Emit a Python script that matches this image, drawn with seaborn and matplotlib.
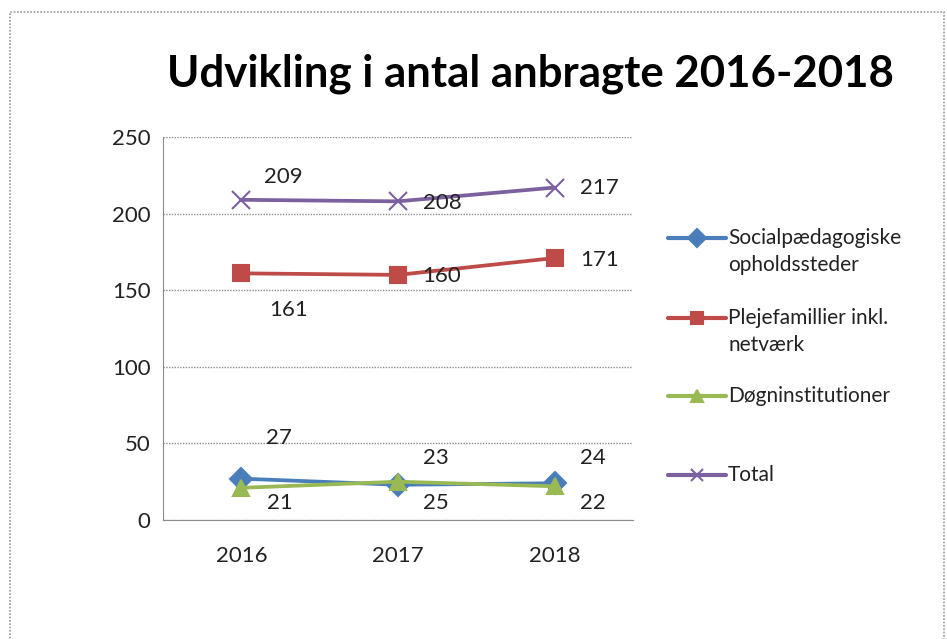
import matplotlib
matplotlib.use('Agg')
import matplotlib.pyplot as plt
from matplotlib.patches import Rectangle
from matplotlib.lines import Line2D
import pandas as pd
import seaborn as sns

years = [2016, 2017, 2018]
series_names = ['Socialpædagogiske\nopholdssteder', 'Plejefamillier inkl.\nnetværk',
                'Døgninstitutioner', 'Total']
social = [27, 23, 24]
pleje = [161, 160, 171]
dogn = [21, 25, 22]
total = [209, 208, 217]
y_ticks = [0, 50, 100, 150, 200, 250]

# data label offsets in pixels (per series, per year)
label_offsets = [
    [(38, 41), (38, 27), (38, 25)],
    [(47, -37), (44, -1), (45, -2)],
    [(39, -15), (38, -21), (38, -17)],
    [(42, 23), (44, -2), (45, 0)],
]

sns.set_style('white')
plt.rcParams['font.family'] = ['Lato', 'DejaVu Sans']

colors = ['#4A7EBB', '#BE4B48', '#98B954', '#7D60A0']
markers = ['D', 's', '^', 'x']
marker_sizes = [11, 11, 12, 13]
W, H = 947, 639

fig = plt.figure(figsize=(W / 100, H / 100), dpi=100)
fig.patches.append(Rectangle((10 / W, -0.01), 934 / W, 1 - 12 / H + 0.01, transform=fig.transFigure,
                             fill=False, edgecolor='#9a9a9a', linewidth=1.2, linestyle=(0, (1, 1))))
ax = fig.add_axes([163 / W, 1 - 520 / H, 470 / W, 383 / H])

all_vals = [social, pleje, dogn, total]
for name, vals, col, mk, ms in zip(series_names, all_vals, colors, markers, marker_sizes):
    d = pd.DataFrame({'year': years, 'value': vals})
    sns.lineplot(data=d, x='year', y='value', color=col, marker=mk, ax=ax, linewidth=2.7,
                 markersize=ms, markeredgewidth=1.5, markeredgecolor=col, legend=False)

for vals, offs in zip(all_vals, label_offsets):
    for yr, v, off in zip(years, vals, offs):
        ax.annotate(str(v), (yr, v), xytext=off, textcoords='offset pixels',
                    ha='center', va='center', fontsize=16, color='#222222')

ax.set_xlim(2015.5, 2018.5)
ax.set_ylim(0, 250)
ax.set_xticks(years)
ax.set_xticklabels([str(y) for y in years])
ax.set_yticks(y_ticks)
ax.tick_params(axis='both', length=0, labelsize=16, labelcolor='#222222')
ax.tick_params(axis='y', pad=9)
ax.tick_params(axis='x', pad=19)
ax.set_xlabel('')
ax.set_ylabel('')
ax.yaxis.grid(True, color='#8c8c8c', linestyle=(0, (1, 1)), linewidth=1)
for side in ['top', 'right']:
    ax.spines[side].set_visible(False)
for side in ['left', 'bottom']:
    ax.spines[side].set_color('#8c8c8c')
    ax.spines[side].set_linestyle((0, (1, 1)))

# legend, handle aligned with first text line like the original
legend_y = [238, 318, 396, 475]
line_gap = 27
for name, col, mk, ly in zip(series_names, colors, markers, legend_y):
    fy = 1 - ly / H
    fig.add_artist(Line2D([668 / W, 726 / W], [fy, fy], color=col, linewidth=3,
                          transform=fig.transFigure))
    fig.add_artist(Line2D([697 / W], [fy], color=col, marker=mk, markersize=9,
                          markeredgecolor=col, markeredgewidth=1.5, transform=fig.transFigure))
    for k, part in enumerate(name.split('\n')):
        fig.text(728 / W, 1 - (ly + k * line_gap) / H, part, ha='left', va='center',
                 fontsize=15, color='#222222')

fig.text(530 / W, 1 - 74 / H, 'Udvikling i antal anbragte 2016-2018', ha='center', va='center',
         fontsize=31.5, fontweight='bold', color='black')

fig.savefig('out.png', dpi=100)
